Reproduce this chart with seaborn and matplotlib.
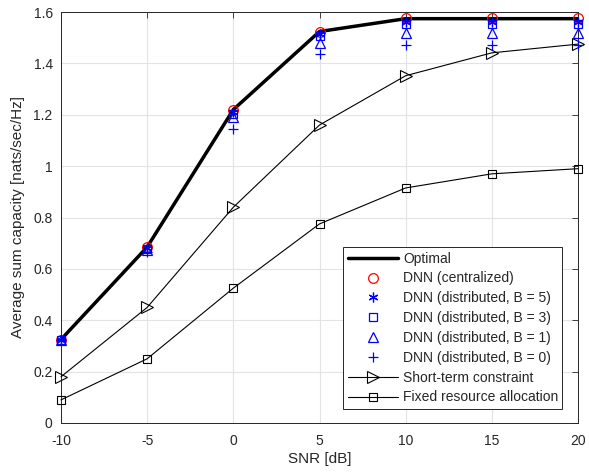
import numpy as np
import pandas as pd
import matplotlib
matplotlib.use("Agg")
import matplotlib.pyplot as plt
import seaborn as sns

snr = [-10, -5, 0, 5, 10, 15, 20]
optimal = [0.325, 0.685, 1.220, 1.524, 1.574, 1.574, 1.574]
dnn_central = [0.325, 0.685, 1.218, 1.523, 1.575, 1.575, 1.575]
dnn_b5 = [0.325, 0.680, 1.210, 1.515, 1.562, 1.562, 1.562]
dnn_b3 = [0.325, 0.676, 1.202, 1.505, 1.555, 1.555, 1.555]
dnn_b1 = [0.325, 0.672, 1.190, 1.480, 1.517, 1.517, 1.517]
dnn_b0 = [0.325, 0.665, 1.145, 1.435, 1.471, 1.471, 1.471]
short_term = [0.180, 0.450, 0.840, 1.160, 1.352, 1.441, 1.475]
fixed_alloc = [0.090, 0.250, 0.525, 0.775, 0.915, 0.970, 0.990]

sns.set_style("white")
plt.rcParams["font.family"] = ["Liberation Sans", "DejaVu Sans"]

fig = plt.figure(figsize=(5.89, 4.72), dpi=100)
ax = fig.add_axes([61 / 589, 1 - 423 / 472, (578 - 61) / 589, (423 - 12) / 472])

ax.grid(True, color="#e3e3e3", linewidth=0.8)
ax.set_axisbelow(True)

df_opt = pd.DataFrame({"snr": snr, "cap": optimal})
sns.lineplot(data=df_opt, x="snr", y="cap", ax=ax, color="black", linewidth=2.5,
             label="Optimal", zorder=3)

markers = [
    (dnn_central, "DNN (centralized)", "o", "red", 7, True),
    (dnn_b5, "DNN (distributed, B = 5)", (6, 2, 0), "blue", 7, False),
    (dnn_b3, "DNN (distributed, B = 3)", "s", "blue", 5.5, True),
    (dnn_b1, "DNN (distributed, B = 1)", "^", "blue", 7.5, True),
    (dnn_b0, "DNN (distributed, B = 0)", "+", "blue", 7.5, False),
]
for vals, lab, m, c, ms, hollow in markers:
    d = pd.DataFrame({"snr": snr, "cap": vals})
    kw = dict(markerfacecolor="none") if hollow else {}
    sns.lineplot(data=d, x="snr", y="cap", ax=ax, linestyle="none", marker=m,
                 markersize=ms, color=c, markeredgecolor=c, markeredgewidth=0.9,
                 label=lab, zorder=4, clip_on=False, **kw)

d = pd.DataFrame({"snr": snr, "cap": short_term})
sns.lineplot(data=d, x="snr", y="cap", ax=ax, color="black", linewidth=0.8,
             marker=">", markersize=9, markerfacecolor="none", markeredgecolor="black",
             markeredgewidth=0.8, label="Short-term constraint", zorder=3, clip_on=False)
d = pd.DataFrame({"snr": snr, "cap": fixed_alloc})
sns.lineplot(data=d, x="snr", y="cap", ax=ax, color="black", linewidth=0.8,
             marker="s", markersize=6, markerfacecolor="none", markeredgecolor="black",
             markeredgewidth=0.8, label="Fixed resource allocation", zorder=3, clip_on=False)

ax.set_xlim(-10, 20)
ax.set_ylim(0, 1.6)
ax.set_xticks([-10, -5, 0, 5, 10, 15, 20])
ax.set_xticklabels(["-10", "-5", "0", "5", "10", "15", "20"])
yt = [0, 0.2, 0.4, 0.6, 0.8, 1.0, 1.2, 1.4, 1.6]
ax.set_yticks(yt)
ax.set_yticklabels(["0", "0.2", "0.4", "0.6", "0.8", "1", "1.2", "1.4", "1.6"])
ax.tick_params(direction="in", length=4, width=0.6, labelsize=10, colors="#262626",
               top=True, right=True, labelcolor="#262626")
ax.tick_params(axis="x", pad=8)
ax.tick_params(axis="y", pad=6)
for s in ax.spines.values():
    s.set_color("#262626")
    s.set_linewidth(0.7)
    s.set_visible(True)

ax.set_xlabel("SNR [dB]", fontsize=11, color="#262626", labelpad=3)
ax.set_ylabel("Average sum capacity [nats/sec/Hz]", fontsize=11, color="#262626", labelpad=6)

leg = ax.legend(loc="lower right", bbox_to_anchor=(0.97, 0.035), fontsize=10,
                frameon=True, fancybox=False, edgecolor="#262626", framealpha=1,
                borderpad=0.3, labelspacing=0.42, handlelength=3.6, handletextpad=0.4,
                borderaxespad=0)
leg.get_frame().set_linewidth(0.7)

fig.savefig("out.png", dpi=100)
